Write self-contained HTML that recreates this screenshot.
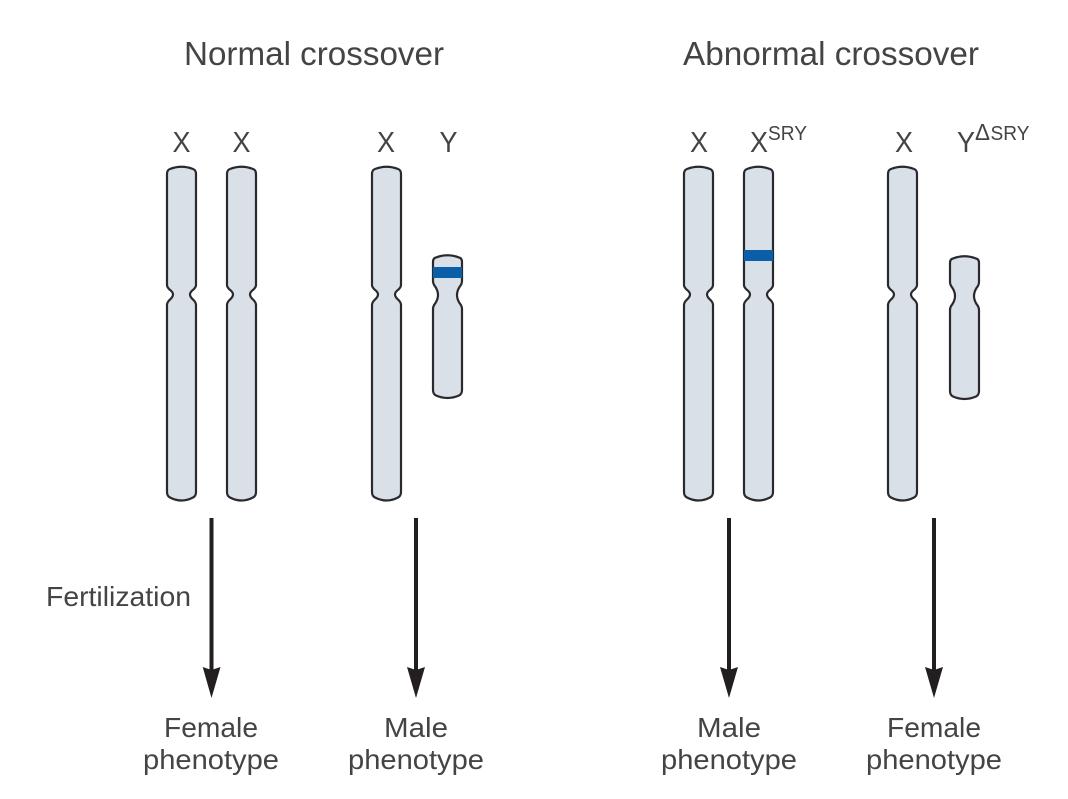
<!DOCTYPE html>
<html><head><meta charset="utf-8">
<style>
html,body{margin:0;padding:0;background:#fff}
svg{display:block}
text{font-family:"Liberation Sans",sans-serif;fill:#444}
.c{fill:#d9e0e7;stroke:#2a2a2e;stroke-width:2.200}
.b{fill:#0a5fa8}
.a{stroke:#231f20;stroke-width:4;fill:none}
.h{fill:#231f20}
.t{font-size:33px}
.l{font-size:29px}
.f{font-size:28px}
.p{font-size:28px;text-anchor:middle}
.s{font-size:20px}
</style></head>
<body>
<svg width="1068" height="799" viewBox="0 0 1068 799" xmlns="http://www.w3.org/2000/svg">
<defs>
<path id="long" class="c" d="M0 174Q0 170 3 169Q14.500 164.500 26 169Q29 170 29 174V283L29 285Q29 287 26.500 289.500Q23 292 23 294.500Q23 297 26.500 300Q29 302.500 29 305V492Q29 496 26 497.500Q14.500 503.500 3 497.500Q0 496 0 492V305Q0 302.500 2.500 300Q6 297 6 294.500Q6 292 2.500 289.500Q0 287 0 285V283Z"/>
<path id="sY" class="c" d="M0 262Q0 258 3 257.500Q14.500 253 26 257.500Q29 258 29 262V281Q29 284 26.500 287Q24 291 24 295Q24 299 26.500 303Q29 306 29 309V390Q29 394 26 395.500Q14.500 400.500 3 395.500Q0 394 0 390V309Q0 306 2.500 303Q5 299 5 295Q5 291 2.500 287Q0 284 0 281Z"/>
</defs>

<text class="t" x="184" y="65" textLength="260" lengthAdjust="spacingAndGlyphs">Normal crossover</text>
<text class="t" x="683" y="65" textLength="296" lengthAdjust="spacingAndGlyphs">Abnormal crossover</text>

<text class="l" x="172.500" y="152" textLength="18" lengthAdjust="spacingAndGlyphs">X</text>
<text class="l" x="232.500" y="152" textLength="18" lengthAdjust="spacingAndGlyphs">X</text>
<text class="l" x="377" y="152" textLength="18" lengthAdjust="spacingAndGlyphs">X</text>
<text class="l" x="439.500" y="152" textLength="18" lengthAdjust="spacingAndGlyphs">Y</text>
<text class="l" x="690" y="152" textLength="18" lengthAdjust="spacingAndGlyphs">X</text>
<text class="l" x="750" y="152" textLength="18" lengthAdjust="spacingAndGlyphs">X</text>
<text class="s" x="768" y="140" textLength="39" lengthAdjust="spacingAndGlyphs">SRY</text>
<text class="l" x="895" y="152" textLength="18" lengthAdjust="spacingAndGlyphs">X</text>
<text class="l" x="957" y="152" textLength="18" lengthAdjust="spacingAndGlyphs">Y</text>
<text x="975" y="140" font-size="23" textLength="15" lengthAdjust="spacingAndGlyphs">Δ</text>
<text class="s" x="990.500" y="140" textLength="39" lengthAdjust="spacingAndGlyphs">SRY</text>

<use href="#long" x="167"/>
<use href="#long" x="227"/>
<use href="#long" x="372"/>
<use href="#long" x="684"/>
<use href="#long" x="744"/>
<use href="#long" x="888"/>
<use href="#sY" x="433"/>
<use href="#sY" x="950" y="1"/>
<rect class="b" x="433" y="267" width="29" height="11"/>
<rect class="b" x="744" y="250" width="29" height="11"/>

<path class="a" d="M211.500 518V675"/><path class="h" d="M202.700 667L211.500 670L220.500 667L211.500 698Z"/>
<path class="a" d="M416 518V675"/><path class="h" d="M407 667L416 670L425 667L416 698Z"/>
<path class="a" d="M729 518V675"/><path class="h" d="M720 667L729 670L738 667L729 698Z"/>
<path class="a" d="M934 518V675"/><path class="h" d="M925 667L934 670L943 667L934 698Z"/>

<text class="f" x="46" y="606" textLength="145" lengthAdjust="spacingAndGlyphs">Fertilization</text>
<text class="p" x="211" y="737" textLength="94" lengthAdjust="spacingAndGlyphs">Female</text>
<text class="p" x="211" y="769" textLength="136" lengthAdjust="spacingAndGlyphs">phenotype</text>
<text class="p" x="416" y="737" textLength="64" lengthAdjust="spacingAndGlyphs">Male</text>
<text class="p" x="416" y="769" textLength="136" lengthAdjust="spacingAndGlyphs">phenotype</text>
<text class="p" x="729" y="737" textLength="64" lengthAdjust="spacingAndGlyphs">Male</text>
<text class="p" x="729" y="769" textLength="136" lengthAdjust="spacingAndGlyphs">phenotype</text>
<text class="p" x="934" y="737" textLength="94" lengthAdjust="spacingAndGlyphs">Female</text>
<text class="p" x="934" y="769" textLength="136" lengthAdjust="spacingAndGlyphs">phenotype</text>
</svg>
</body></html>
